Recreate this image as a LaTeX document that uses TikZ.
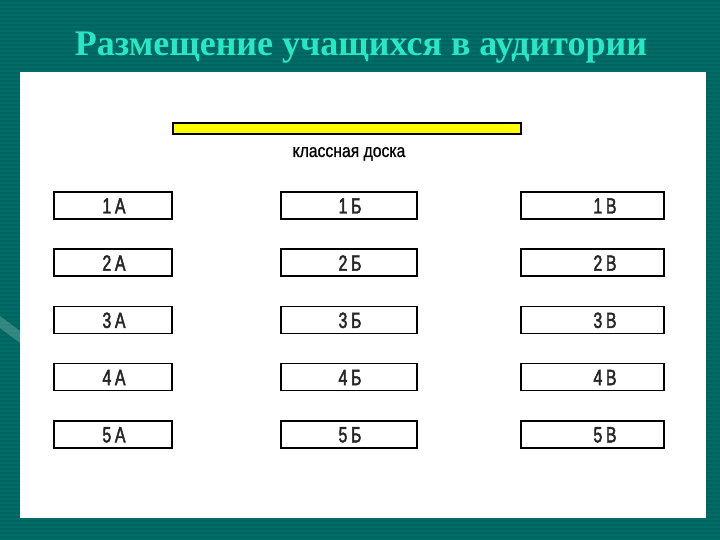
\documentclass[tikz,border=0pt]{standalone}
\usepackage{fontspec}
\setmainfont{Liberation Serif}
\newfontfamily\boxfont[FakeStretch=0.72,FakeBold=2]{Liberation Sans}
\newfontfamily\labfont[FakeStretch=0.85,FakeBold=0.8]{Liberation Sans}
\definecolor{bgteal}{RGB}{0,108,102}
\definecolor{bgstripe}{RGB}{0,101,96}
\definecolor{titlecol}{RGB}{40,232,196}
\definecolor{boardyellow}{RGB}{255,255,0}
\tikzset{
  desk/.style={draw=black, line width=1.6pt, fill=white, minimum height=27pt, inner sep=0pt},
  desktext/.style={font=\boxfont\fontsize{22}{22}\selectfont, text=black!85},
}
\begin{document}
\begin{tikzpicture}[x=1pt,y=-1pt]
\useasboundingbox (0,0) rectangle (720,540);
% background
\fill[bgteal] (0,0) rectangle (720,540);
\foreach \yy in {0,4,...,536} { \fill[bgstripe] (0,\yy) rectangle (720,\yy+2); }
\fill[white, opacity=0.2] (0,316) -- (24,334) -- (24,346) -- (0,328) -- cycle;
% panel
\fill[white] (20,72) rectangle (706,518);
% title
\node[anchor=base, text=titlecol, font=\rmfamily\bfseries\fontsize{36}{36}\selectfont] (title) at (361,56) {Размещение учащихся в аудитории};
% board
\draw[fill=boardyellow, line width=1.4pt] (173,123) rectangle (521,134);
\node[anchor=base, font=\labfont\fontsize{18.5}{18.5}\selectfont] (boardlab) at (349,157) {классная доска};
% desks
\foreach \r [count=\i from 0] in {1,2,3,4,5} {
  \pgfmathsetmacro{\yc}{205.5+57.2*\i}
  \node[desk, minimum width=118pt] (A\r) at (113,\yc) {};
  \node[desktext, anchor=base] at (114,\yc+8) {\r\,А};
  \node[desk, minimum width=136pt] (B\r) at (349,\yc) {};
  \node[desktext, anchor=base] at (350,\yc+8) {\r\,Б};
  \node[desk, minimum width=143pt] (C\r) at (592.5,\yc) {};
  \node[desktext, anchor=base] at (605,\yc+8) {\r\,В};
}
\end{tikzpicture}
\end{document}
